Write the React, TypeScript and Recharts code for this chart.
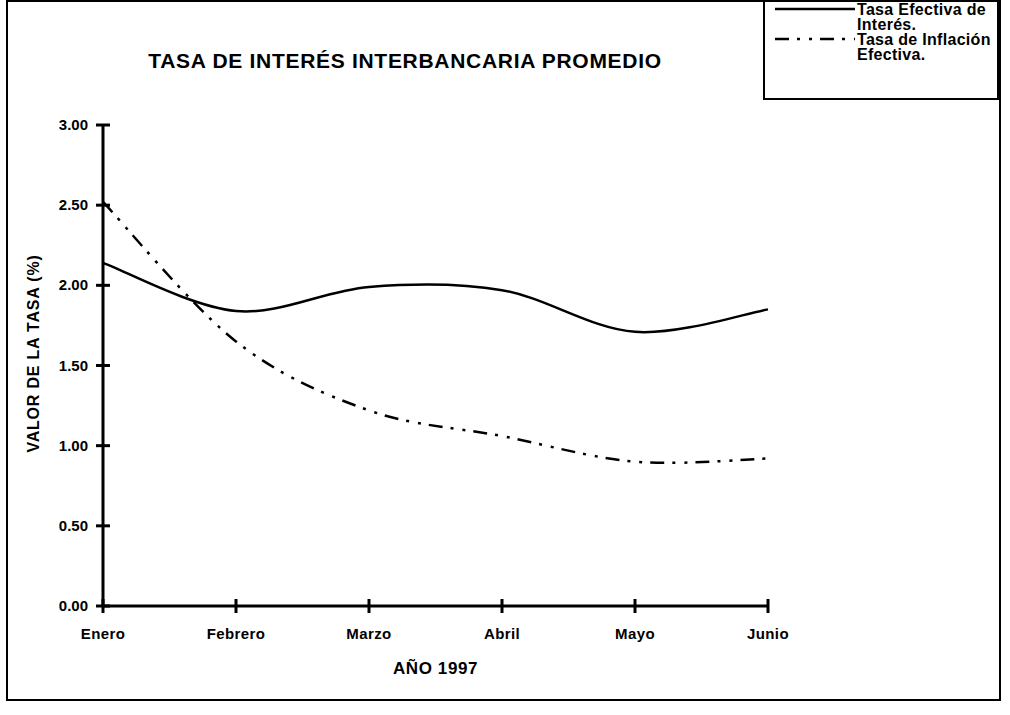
import React from "react";
import { Label, Line, LineChart, XAxis, YAxis } from "recharts";

const months = ["Enero", "Febrero", "Marzo", "Abril", "Mayo", "Junio"];
const tasaInteres = [2.14, 1.84, 1.99, 1.97, 1.71, 1.85];
const tasaInflacion = [2.52, 1.65, 1.22, 1.06, 0.9, 0.92];
const yTicks = [0, 0.5, 1, 1.5, 2, 2.5, 3];
const legendLines = [
  ["Tasa Efectiva de", "Interés."],
  ["Tasa de Inflación", "Efectiva."],
];

const data = months.map((mes, i) => ({
  mes,
  interes: tasaInteres[i],
  inflacion: tasaInflacion[i],
}));

const font = "Arial, 'Liberation Sans', sans-serif";
const dashDotDot = "14 8 3 9 3 8";

// excel-style smoothed line (catmull-rom through the points)
function smoothCurve(context: any) {
  let pts: number[][] = [];
  return {
    areaStart() {},
    areaEnd() {},
    lineStart() {
      pts = [];
    },
    point(x: number, y: number) {
      pts.push([+x, +y]);
    },
    lineEnd() {
      if (!pts.length) return;
      context.moveTo(pts[0][0], pts[0][1]);
      for (let i = 0; i < pts.length - 1; i++) {
        const p0 = pts[i - 1] || pts[i];
        const p1 = pts[i];
        const p2 = pts[i + 1];
        const p3 = pts[i + 2] || p2;
        context.bezierCurveTo(
          p1[0] + (p2[0] - p0[0]) / 6,
          p1[1] + (p2[1] - p0[1]) / 6,
          p2[0] - (p3[0] - p1[0]) / 6,
          p2[1] - (p3[1] - p1[1]) / 6,
          p2[0],
          p2[1]
        );
      }
    },
  };
}

const XTick = (props: any) => {
  const { x, y, payload } = props;
  return (
    <g>
      <line x1={x} y1={y - 7} x2={x} y2={y + 7} stroke="#000" strokeWidth={3} />
      <text x={x} y={y + 33} textAnchor="middle" fontFamily={font} fontWeight="bold" fontSize={15} letterSpacing={0.4} fill="#000">
        {payload.value}
      </text>
    </g>
  );
};

const YTick = (props: any) => {
  const { x, y, payload } = props;
  return (
    <g>
      <line x1={x - 7} y1={y} x2={x + 7} y2={y} stroke="#000" strokeWidth={3} />
      <text x={x - 15} y={y + 5} textAnchor="end" fontFamily={font} fontWeight="bold" fontSize={15} fill="#000">
        {Number(payload.value).toFixed(2)}
      </text>
    </g>
  );
};

const LegendBox = () => (
  <div
    style={{
      position: "absolute",
      left: 763,
      top: 0,
      width: 236,
      height: 100,
      border: "2px solid #000",
      boxSizing: "border-box",
      overflow: "hidden",
      background: "#fff",
      fontFamily: font,
      fontWeight: "bold",
      fontSize: 16,
      letterSpacing: 0.3,
      lineHeight: "15px",
      whiteSpace: "nowrap",
    }}
  >
    {legendLines.map((lines, i) => (
      <div key={i} style={{ display: "flex", alignItems: "flex-start" }}>
        <svg width={92} height={15} style={{ flex: "none" }}>
          <line x1={10} y1={7} x2={90} y2={7} stroke="#000" strokeWidth={2.5} strokeDasharray={i === 1 ? dashDotDot : undefined} />
        </svg>
        <div>
          {lines.map((t) => (
            <div key={t}>{t}</div>
          ))}
        </div>
      </div>
    ))}
  </div>
);

export default function App() {
  return (
    <div style={{ position: "absolute", left: 0, top: 0, width: 1010, height: 715, background: "#fff" }}>
      <div
        style={{
          position: "absolute",
          left: 6,
          top: 0,
          width: 995,
          height: 701,
          border: "2px solid #000",
          boxSizing: "border-box",
        }}
      />
      <div
        style={{
          position: "absolute",
          left: 0,
          top: 49,
          width: 810,
          textAlign: "center",
          fontFamily: font,
          fontWeight: "bold",
          fontSize: 21,
          letterSpacing: 0.7,
          color: "#000",
        }}
      >
        TASA DE INTERÉS INTERBANCARIA PROMEDIO
      </div>
      <LineChart
        width={1010}
        height={715}
        data={data}
        margin={{ top: 125, right: 242, bottom: 29, left: 8 }}
        style={{ position: "absolute", left: 0, top: 0 }}
      >
        <XAxis
          dataKey="mes"
          height={80}
          axisLine={{ stroke: "#000", strokeWidth: 3 }}
          tickLine={false}
          tickSize={0}
          tickMargin={0}
          tick={<XTick />}
          interval={0}
        >
          <Label
            value="AÑO 1997"
            position="insideBottom"
            offset={12}
            style={{ fontFamily: font, fontWeight: "bold", fontSize: 17, letterSpacing: 0.6, fill: "#000" }}
          />
        </XAxis>
        <YAxis
          domain={[0, 3]}
          ticks={yTicks}
          width={95}
          axisLine={{ stroke: "#000", strokeWidth: 3 }}
          tickLine={false}
          tickSize={0}
          tickMargin={0}
          tick={<YTick />}
        >
          <Label
            value="VALOR DE LA TASA (%)"
            angle={-90}
            position="insideLeft"
            offset={25}
            dy={-12}
            style={{ fontFamily: font, fontWeight: "bold", fontSize: 16, letterSpacing: 0.8, fill: "#000", textAnchor: "middle" }}
          />
        </YAxis>
        <Line
          dataKey="interes"
          name="Tasa Efectiva de Interés."
          type={smoothCurve as any}
          stroke="#000"
          strokeWidth={2.5}
          dot={false}
          activeDot={false}
          isAnimationActive={false}
        />
        <Line
          dataKey="inflacion"
          name="Tasa de Inflación Efectiva."
          type={smoothCurve as any}
          stroke="#000"
          strokeWidth={2.5}
          strokeDasharray={dashDotDot}
          dot={false}
          activeDot={false}
          isAnimationActive={false}
        />
      </LineChart>
      <LegendBox />
    </div>
  );
}
